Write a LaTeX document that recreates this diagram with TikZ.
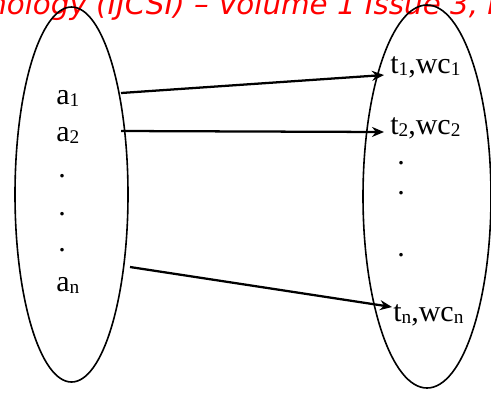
\documentclass[tikz,border=0pt]{standalone}
\usepackage{fontspec}
\setmainfont{Liberation Serif}
\newfontfamily\headfont{DejaVu Sans}
\usetikzlibrary{arrows.meta}
\newcommand{\lowidx}[1]{\raisebox{-1.5pt}{\fontsize{14.5}{14.5}\selectfont #1}}
\tikzset{
  lab/.style={anchor=west,inner sep=0pt,font=\fontsize{22.5}{24}\selectfont},
  arr/.style={-{Stealth[length=9pt,width=7.5pt]},line width=1.7pt},
  set/.style={line width=1.2pt},
}
\begin{document}
\begin{tikzpicture}[x=0.75pt,y=-0.75pt]
\clip (0,0) rectangle (491,394);
% header line of the page
\node[anchor=base west,inner sep=0pt,text=red,font=\headfont\itshape\fontsize{22}{24}\selectfont] (head) at (-12,14) {nology (IJCSI) – Volume 1 Issue 3, N};
% the two sets
\draw[set] (71.5,194.5) ellipse [x radius=56.5,y radius=187.5];
\draw[set] (427,196.5) ellipse [x radius=64,y radius=191.5];
% left set
\node[lab] (a1) at (56,98) {a\lowidx{1}};
\node[lab] (a2) at (56,135) {a\lowidx{2}};
\node[lab] (ad1) at (58,176) {.};
\node[lab] (ad2) at (58,214) {.};
\node[lab] (ad3) at (58,250) {.};
\node[lab] (an) at (56,285) {a\lowidx{n}};
% right set
\node[lab] (t1) at (390,67) {t\lowidx{1},wc\lowidx{1}};
\node[lab] (t2) at (390,128) {t\lowidx{2},wc\lowidx{2}};
\node[lab] (td1) at (397,163) {.};
\node[lab] (td2) at (397,193) {.};
\node[lab] (td3) at (397,255) {.};
\node[lab] (tn) at (393,315) {t\lowidx{n},wc\lowidx{n}};
% ends of the arrows
\coordinate (s1) at (121,93);
\coordinate (s2) at (121,131);
\coordinate (s3) at (130,267);
\coordinate (e1) at (384,75);
\coordinate (e2) at (384,132);
\coordinate (e3) at (392,307);
\draw[arr] (s1) -- (e1);
\draw[arr] (s2) -- (e2);
\draw[arr] (s3) -- (e3);
\end{tikzpicture}
\end{document}
